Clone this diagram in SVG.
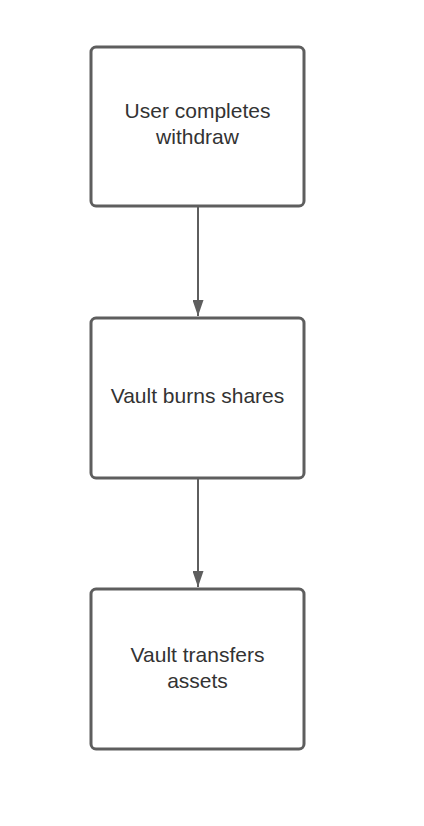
<svg xmlns="http://www.w3.org/2000/svg" width="424" height="826" viewBox="0 0 424 826">
<style>
.box{fill:#ffffff;stroke:#5e5e5e;stroke-width:3}
.lbl{font-family:"Liberation Sans",Arial,sans-serif;font-size:21px;fill:#333333;text-anchor:middle}
.edge{stroke:#5e5e5e;stroke-width:2;fill:none}
</style>
<defs>
<marker id="arr" viewBox="0 0 16 11" refX="16" refY="5.5" markerWidth="16" markerHeight="11" markerUnits="userSpaceOnUse" orient="auto">
<path d="M0,0 L16,5.5 L0,11 Z" fill="#5e5e5e"/>
</marker>
</defs>
<rect width="424" height="826" fill="#ffffff"/>
<g id="connectors">
<line class="edge" x1="198" y1="207" x2="198" y2="316" marker-end="url(#arr)"/>
<line class="edge" x1="198" y1="479" x2="198" y2="587" marker-end="url(#arr)"/>
</g>
<g id="node1">
<rect class="box" x="91" y="47" width="213" height="159" rx="5"/>
<text class="lbl" x="197.5" y="118">User completes</text>
<text class="lbl" x="197.5" y="144">withdraw</text>
</g>
<g id="node2">
<rect class="box" x="91" y="318" width="213" height="160" rx="5"/>
<text class="lbl" x="197.5" y="403">Vault burns shares</text>
</g>
<g id="node3">
<rect class="box" x="91" y="589" width="213" height="160" rx="5"/>
<text class="lbl" x="197.5" y="662">Vault transfers</text>
<text class="lbl" x="197.5" y="688">assets</text>
</g>
</svg>
